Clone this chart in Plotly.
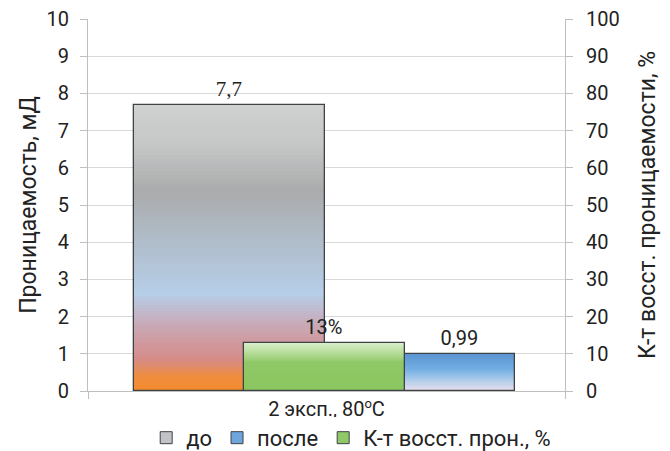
import plotly.graph_objects as go

# ---- data ----
category = "2 эксп., 80<sup><span style='font-size:13px'>o</span></sup>C"
series_names = ["до", "после", "К-т восст. прон., %"]
perm_before = 7.7        # мД
perm_after = 0.99        # мД
recovery_pct = 13        # %
label_before = "7,7"
label_after = "0,99"
label_recovery = "13%"
left_ticks = list(range(0, 11))
right_ticks = list(range(0, 101, 10))

# ---- styles ----
FONT = "Roboto"
TXT = "#222222"
grad_before = [(0.0, "#f58a2c"), (0.05, "#ef8d3e"), (0.11, "#d68b88"), (0.23, "#c9a9b6"),
               (0.34, "#b6cee8"), (0.55, "#afbac5"), (0.70, "#aaabac"), (0.85, "#c4c5c5"),
               (1.0, "#d0d1d1")]
grad_after = [(0.0, "#eee0ee"), (0.3, "#b0cdea"), (0.6, "#73aee3"), (1.0, "#5b96d3")]
grad_green = [(0.0, "#8bc660"), (0.6, "#8fc866"), (0.8, "#b6dd99"), (1.0, "#d9eecb")]
N_SEG = 90


def hex2rgb(h):
    h = h.lstrip("#")
    return tuple(int(h[i:i + 2], 16) for i in (0, 2, 4))


def interp(stops, t):
    for (t0, c0), (t1, c1) in zip(stops[:-1], stops[1:]):
        if t0 <= t <= t1:
            a = (t - t0) / (t1 - t0) if t1 > t0 else 0
            r0, g0, b0 = hex2rgb(c0)
            r1, g1, b1 = hex2rgb(c1)
            return "rgb(%d,%d,%d)" % (round(r0 + (r1 - r0) * a), round(g0 + (g1 - g0) * a),
                                      round(b0 + (b1 - b0) * a))
    return stops[-1][1]


def gradient_bar(value, stops, offset, width, yaxis):
    step = value / N_SEG
    bases = [i * step for i in range(N_SEG)]
    colors = [interp(stops, (i + 0.5) / N_SEG) for i in range(N_SEG)]
    return go.Bar(x=[0] * N_SEG, y=[step * 1.05] * N_SEG, base=bases, offset=offset, width=width,
                  marker=dict(color=colors, line=dict(width=0)), yaxis=yaxis,
                  showlegend=False, hoverinfo="skip")


def outline_bar(value, name, text, offset, width, yaxis, tfont):
    return go.Bar(x=[0], y=[value], offset=offset, width=width, name=name,
                  marker=dict(color="rgba(0,0,0,0)", line=dict(color="#3f4346", width=1.3)),
                  text=[text], textposition="outside", textfont=tfont, cliponaxis=False,
                  yaxis=yaxis, showlegend=False, hoverinfo="skip")


def legend_bar(name, color, rank, yaxis):
    return go.Bar(x=[None], y=[None], name=name, yaxis=yaxis,
                  marker=dict(color=color, line=dict(color="#3f4346", width=1)),
                  legendrank=rank, hoverinfo="skip")


fig = go.Figure()
lab_font = dict(family=FONT, size=20, color=TXT)
fig.add_trace(legend_bar(series_names[0], "#c2c3c6", 1, "y"))
fig.add_trace(legend_bar(series_names[1], "#6ea6dc", 2, "y"))
fig.add_trace(legend_bar(series_names[2], "#8fc866", 3, "y2"))

fig.add_trace(gradient_bar(perm_before, grad_before, -0.404, 0.400, "y"))
fig.add_trace(outline_bar(perm_before, series_names[0], label_before, -0.404, 0.400, "y",
                          dict(family="Liberation Serif", size=21, color=TXT)))
fig.add_trace(gradient_bar(perm_after, grad_after, 0.165, 0.231, "y"))
fig.add_trace(outline_bar(perm_after, series_names[1], label_after, 0.165, 0.231, "y", lab_font))
fig.add_trace(gradient_bar(recovery_pct, grad_green, -0.173, 0.338, "y2"))
fig.add_trace(outline_bar(recovery_pct, series_names[2], label_recovery, -0.173, 0.338, "y2", lab_font))

fig.update_layout(
    width=670, height=480,
    margin=dict(l=80, r=113, t=11, b=97),
    paper_bgcolor="white", plot_bgcolor="white",
    barmode="overlay", bargap=0,
    font=dict(family=FONT, size=20, color=TXT),
    showlegend=True,
    legend=dict(orientation="h", x=0.122, xanchor="left", y=-0.126, yanchor="middle",
                font=dict(family=FONT, size=22, color=TXT), traceorder="normal",
                itemclick=False, itemdoubleclick=False),
    xaxis=dict(range=[-0.5, 0.5], tickvals=[0], ticktext=[category], ticks="", showgrid=False,
               showline=True, linecolor="#bfbfbf", linewidth=1, zeroline=False, fixedrange=True,
               automargin=False, ticklabeloverflow="allow",
               tickfont=dict(family=FONT, size=20, color=TXT),
               minor=dict(ticks="outside", tick0=-0.5, dtick=1, ticklen=7, tickcolor="#bfbfbf",
                          showgrid=False)),
    yaxis=dict(range=[0, 10], tickvals=left_ticks, showgrid=True, gridcolor="#d9d9d9", gridwidth=1,
               showline=True, linecolor="#bfbfbf", linewidth=1, ticks="outside", ticklen=7,
               tickcolor="#bfbfbf", zeroline=False, automargin=False, ticklabeloverflow="allow",
               ticklabelstandoff=7,
               title=dict(text="Проницаемость, мД", font=dict(family=FONT, size=23, color=TXT),
                          standoff=3),
               tickfont=dict(family=FONT, size=20, color=TXT)),
    yaxis2=dict(range=[0, 100], tickvals=right_ticks, overlaying="y", side="right", showgrid=False,
                showline=True, linecolor="#bfbfbf", linewidth=1, ticks="outside", ticklen=7,
                tickcolor="#bfbfbf", zeroline=False, automargin=False, ticklabeloverflow="allow",
                ticklabelstandoff=9,
                title=dict(text="К-т восст. проницаемости, %", font=dict(family=FONT, size=23, color=TXT),
                           standoff=20),
                tickfont=dict(family=FONT, size=20, color=TXT)),
)

fig.write_html("out.html")
